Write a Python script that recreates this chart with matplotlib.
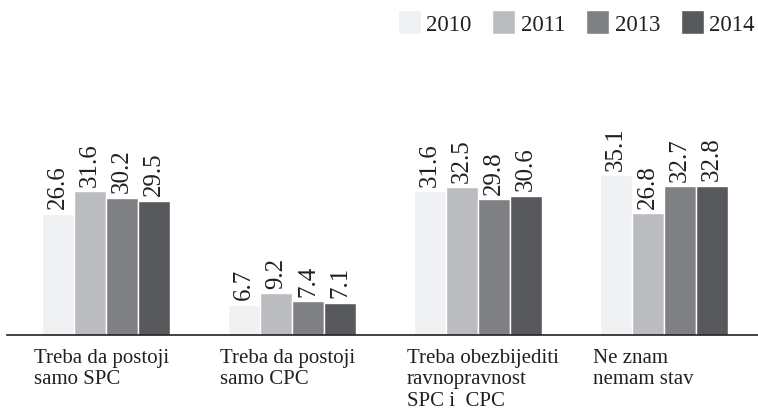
import numpy as np
import matplotlib.pyplot as plt
from matplotlib.transforms import blended_transform_factory, offset_copy

# Data
categories = ["Treba da postoji\nsamo SPC",
              "Treba da postoji\nsamo CPC",
              "Treba obezbijediti\nravnopravnost\nSPC i  CPC",
              "Ne znam\nnemam stav"]
years = ["2010", "2011", "2013", "2014"]
v2010 = [26.6, 6.7, 31.6, 35.1]
v2011 = [31.6, 9.2, 32.5, 26.8]
v2013 = [30.2, 7.4, 29.8, 32.7]
v2014 = [29.5, 7.1, 30.6, 32.8]
series = [v2010, v2011, v2013, v2014]

colors = ["#f0f1f3", "#bbbcc0", "#7f8084", "#58595c"]
text_color = "#231f20"

plt.rcParams['font.family'] = ['Liberation Serif', 'DejaVu Serif']
fs = 15

fig = plt.figure(figsize=(7.58, 4.14), dpi=100)
ax = fig.add_axes([0.009, 0.188, 0.991, 0.66])

x = np.arange(len(categories))
w = 0.172

for i, (vals, col, yr) in enumerate(zip(series, colors, years)):
    pos = x + (i - 1.5) * w
    bars = ax.bar(pos, vals, width=w, color=col, edgecolor="white", linewidth=1.0, label=yr)
    for b, v in zip(bars, vals):
        ax.annotate(f"{v:.1f}", (b.get_x() + b.get_width() / 2, v), xytext=(0, 4),
                    textcoords="offset points", rotation=90, ha="center", va="bottom",
                    fontsize=18, color=text_color)

ax.set_xlim(-0.532, 3.505)
ax.set_ylim(0, 60)

# category labels, left aligned under each group
trans = offset_copy(blended_transform_factory(ax.transData, ax.transAxes), fig=fig, x=0, y=-9, units="points")
for xi, lab in zip(x, categories):
    ax.text(xi - 2 * w - 0.04, 0, lab, transform=trans, ha="left", va="top",
            fontsize=fs, color=text_color, linespacing=1.2)

for s in ["top", "right", "left"]:
    ax.spines[s].set_visible(False)
ax.spines["bottom"].set_linewidth(1.2)
ax.spines["bottom"].set_color(text_color)
ax.set_xticks([])
ax.set_yticks([])

leg = fig.legend(loc="upper right", bbox_to_anchor=(1.017, 1.012), ncol=4, frameon=False,
                 fontsize=16.5, handlelength=1.0, handleheight=1.2, handletextpad=0.25,
                 columnspacing=0.9, borderaxespad=0.3)
for t in leg.get_texts():
    t.set_color(text_color)

fig.savefig("out.png", dpi=100)
